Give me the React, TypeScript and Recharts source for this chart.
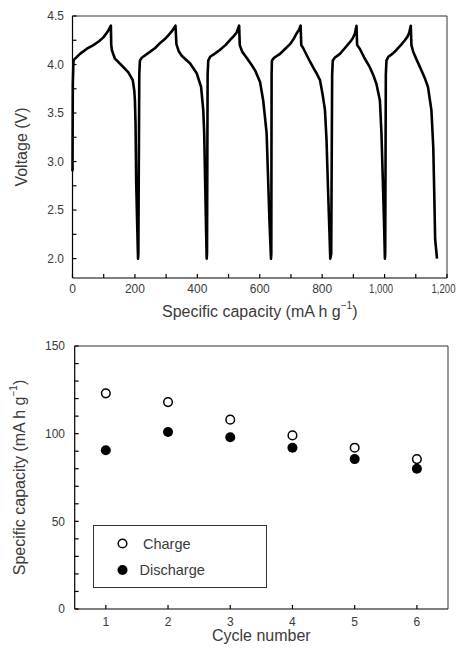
import React from "react";
import {
  LineChart,
  Line,
  XAxis,
  YAxis,
  ReferenceLine,
  Label,
  ScatterChart,
  Scatter,
  Legend,
} from "recharts";

const FONT = "'Liberation Sans', Arial, Helvetica, sans-serif";
const TEXT = "#3a3a3a";

// charge/discharge profiles: [cumulative capacity (mA h g-1), voltage (V)]
const cycle1: [number, number][] = [
  [0, 2.9], [1, 3.8], [3, 4.03], [5, 4.05], [24, 4.11], [45, 4.16], [67, 4.2], [85, 4.24],
  [99, 4.28], [113, 4.34], [123, 4.4], [124, 4.21], [126, 4.15], [136, 4.06], [158, 3.99],
  [179, 3.92], [193, 3.84], [198, 3.73], [200, 3.63], [202, 3.39], [204, 2.8], [208, 2.25], [210, 2.0],
];
const cycle2: [number, number][] = [
  [211, 2.05], [214, 3.9], [216, 4.04], [222, 4.07], [248, 4.13], [265, 4.17], [280, 4.22],
  [295, 4.26], [307, 4.3], [320, 4.35], [330, 4.4], [333, 4.21], [340, 4.14], [350, 4.09],
  [377, 4.01], [398, 3.91], [412, 3.77], [419, 3.53], [422, 3.29], [425, 2.8], [428, 2.3], [430, 2.0],
];
const cycle3: [number, number][] = [
  [431, 2.05], [433, 3.9], [435, 4.04], [441, 4.08], [455, 4.11], [472, 4.15], [490, 4.2],
  [504, 4.25], [516, 4.29], [526, 4.33], [534, 4.4], [536, 4.2], [544, 4.13], [558, 4.07],
  [573, 4.0], [585, 3.94], [601, 3.82], [611, 3.63], [617, 3.45], [622, 3.29], [626, 2.9],
  [631, 2.4], [636, 2.0],
];
const cycle4: [number, number][] = [
  [637, 2.05], [638, 3.9], [639, 4.04], [646, 4.07], [665, 4.11], [681, 4.16], [697, 4.21],
  [708, 4.26], [718, 4.32], [726, 4.36], [731, 4.4], [733, 4.2], [739, 4.17], [753, 4.08],
  [771, 3.97], [782, 3.91], [793, 3.84], [802, 3.68], [809, 3.53], [814, 3.22], [818, 2.8],
  [822, 2.4], [826, 2.0],
];
const cycle5: [number, number][] = [
  [829, 2.05], [832, 3.9], [834, 4.04], [840, 4.07], [857, 4.11], [873, 4.17], [889, 4.23],
  [898, 4.27], [905, 4.32], [910, 4.4], [912, 4.2], [921, 4.16], [935, 4.07], [953, 3.97],
  [964, 3.89], [974, 3.8], [985, 3.63], [990, 3.29], [994, 2.85], [998, 2.4], [1001, 2.0],
];
const cycle6: [number, number][] = [
  [1002, 2.05], [1004, 3.9], [1006, 4.04], [1012, 4.08], [1025, 4.11], [1038, 4.15],
  [1052, 4.2], [1065, 4.25], [1074, 4.29], [1079, 4.33], [1084, 4.4], [1086, 4.2], [1092, 4.13],
  [1104, 4.04], [1118, 3.94], [1130, 3.85], [1139, 3.77], [1150, 3.53], [1156, 3.15],
  [1159, 2.7], [1162, 2.2], [1168, 2.0],
];

const CAPACITY_TICKS = [0, 100, 200, 300, 400, 500, 600, 700, 800, 900, 1000, 1100, 1200];
const VOLTAGE_TICKS = [2.0, 2.25, 2.5, 2.75, 3.0, 3.25, 3.5, 3.75, 4.0, 4.25, 4.5];

const CYCLES = [1, 2, 3, 4, 5, 6];
const CHARGE_CAPACITY = [123, 118, 108, 99, 92, 85.5];
const DISCHARGE_CAPACITY = [90.5, 101, 98, 92, 85.5, 80];
const CAP_TICKS = [0, 10, 20, 30, 40, 50, 60, 70, 80, 90, 100, 110, 120, 130, 140, 150];

const profile = [cycle1, cycle2, cycle3, cycle4, cycle5, cycle6]
  .flat()
  .map(([cap, v]) => ({ cap, v }));

const chargeData = CYCLES.map((c, i) => ({ cycle: c, capacity: CHARGE_CAPACITY[i] }));
const dischargeData = CYCLES.map((c, i) => ({ cycle: c, capacity: DISCHARGE_CAPACITY[i] }));

// ticks point into the plot; labels drawn by hand
const TICK_LEN = 4;
const tickLineStyle = { stroke: "#000", strokeWidth: 1.2 };
const axisLineStyle = { stroke: "#000", strokeWidth: 1.2 };

function makeYTick(isMajor: (v: number) => boolean, fmt: (v: number) => string, gap: number) {
  return (props: any) => {
    const x = Number(props.x);
    const y = Number(props.y);
    const v = props.payload.value;
    if (!isMajor(v)) return <g />;
    return (
      <text x={x - gap} y={y} dy="0.35em" textAnchor="end" fontSize={12} fill={TEXT} fontFamily={FONT}>
        {fmt(v)}
      </text>
    );
  };
}

function makeXTick(isMajor: (v: number) => boolean, fmt: (v: number) => string, gap: number) {
  return (props: any) => {
    const x = Number(props.x);
    const y = Number(props.y);
    const v = props.payload.value;
    if (!isMajor(v)) return <g />;
    const label = fmt(v);
    // the thousands labels are set tighter in the original
    const wide = label.length > 3;
    const squeeze = wide ? { textLength: 24, lengthAdjust: "spacingAndGlyphs" as const } : {};
    return (
      <text
        x={wide ? x - 3.5 : x}
        y={y + gap}
        dy="0.35em"
        textAnchor="middle"
        fontSize={12}
        fill={TEXT}
        fontFamily={FONT}
        {...squeeze}
      >
        {label}
      </text>
    );
  };
}

const unitTitle = (x: number, y: number, rotate: boolean) => (
  <text
    x={x}
    y={y}
    textAnchor="middle"
    dominantBaseline="central"
    fontSize={16}
    fill={TEXT}
    fontFamily={FONT}
    transform={rotate ? `rotate(-90 ${x} ${y})` : undefined}
  >
    Specific capacity (mA h g
    <tspan dy={-6} fontSize={10}>−1</tspan>
    <tspan dy={6}>)</tspan>
  </text>
);

function VoltageProfile() {
  return (
    <LineChart width={457} height={330} data={profile} margin={{ top: 16, right: 10, bottom: 12, left: 0 }}>
      <XAxis
        dataKey="cap"
        type="number"
        domain={[0, 1200]}
        ticks={CAPACITY_TICKS}
        interval={0}
        tickSize={-TICK_LEN}
        tickMargin={TICK_LEN}
        height={40}
        axisLine={axisLineStyle}
        tickLine={tickLineStyle}
        tick={makeXTick((v) => v % 200 === 0, (v) => v.toLocaleString("en-US"), 11)}
      >
        <Label content={(p: any) => unitTitle(p.viewBox.x + p.viewBox.width / 2, p.viewBox.y + 33, false)} />
      </XAxis>
      <YAxis
        dataKey="v"
        type="number"
        domain={[1.8, 4.5]}
        ticks={VOLTAGE_TICKS}
        interval={0}
        tickSize={-TICK_LEN}
        tickMargin={TICK_LEN}
        width={72.5}
        axisLine={axisLineStyle}
        tickLine={tickLineStyle}
        tick={makeYTick((v) => Math.abs(v * 2 - Math.round(v * 2)) < 1e-6, (v) => v.toFixed(1), 8.5)}
      >
        <Label
          content={(p: any) => {
            const cx = 21;
            const cy = p.viewBox.y + p.viewBox.height / 2;
            return (
              <text
                x={cx}
                y={cy}
                textAnchor="middle"
                dominantBaseline="central"
                fontSize={16}
                fill={TEXT}
                fontFamily={FONT}
                transform={`rotate(-90 ${cx} ${cy})`}
              >
                Voltage (V)
              </text>
            );
          }}
        />
      </YAxis>
      <ReferenceLine y={4.5} stroke="#333" strokeWidth={1} />
      <ReferenceLine x={1200} stroke="#333" strokeWidth={1} />
      <Line
        dataKey="v"
        type="linear"
        stroke="#000"
        strokeWidth={2.6}
        strokeLinejoin="round"
        dot={false}
        activeDot={false}
        isAnimationActive={false}
      />
    </LineChart>
  );
}

const openDot = (p: any) => <circle cx={p.cx} cy={p.cy} r={4.3} fill="#fff" stroke="#000" strokeWidth={1.5} />;
const filledDot = (p: any) => <circle cx={p.cx} cy={p.cy} r={5} fill="#000" />;

function CapacityLegend() {
  return (
    <div
      style={{
        width: 174,
        height: 63,
        boxSizing: "border-box",
        border: "1.3px solid #333",
        background: "#fff",
      }}
    >
      <svg width={172} height={61} style={{ display: "block" }}>
        <circle cx={28.5} cy={17.5} r={4.3} fill="#fff" stroke="#000" strokeWidth={1.5} />
        <text x={49} y={17.5} dy="0.35em" fontSize={14.5} fill={TEXT} fontFamily={FONT}>
          Charge
        </text>
        <circle cx={28.5} cy={44} r={5} fill="#000" />
        <text x={45.5} y={44} dy="0.35em" fontSize={14.5} fill={TEXT} fontFamily={FONT}>
          Discharge
        </text>
      </svg>
    </div>
  );
}

function CyclingChart() {
  return (
    <ScatterChart width={457} height={318} margin={{ top: 16, right: 9, bottom: 9, left: 0 }}>
      <XAxis
        dataKey="cycle"
        type="number"
        domain={[0.5, 6.5]}
        ticks={CYCLES}
        interval={0}
        tickSize={-TICK_LEN}
        tickMargin={TICK_LEN}
        height={30}
        axisLine={axisLineStyle}
        tickLine={tickLineStyle}
        tick={makeXTick(() => true, (v) => String(v), 12.5)}
      >
        <Label
          content={(p: any) => (
            <text
              x={p.viewBox.x + p.viewBox.width / 2}
              y={p.viewBox.y + 26}
              textAnchor="middle"
              dominantBaseline="central"
              fontSize={16}
              fill={TEXT}
              fontFamily={FONT}
            >
              Cycle number
            </text>
          )}
        />
      </XAxis>
      <YAxis
        dataKey="capacity"
        type="number"
        domain={[0, 150]}
        ticks={CAP_TICKS}
        interval={0}
        tickSize={-TICK_LEN}
        tickMargin={TICK_LEN}
        width={74.7}
        axisLine={axisLineStyle}
        tickLine={tickLineStyle}
        tick={makeYTick((v) => v % 50 === 0, (v) => String(v), 9.7)}
      >
        <Label content={(p: any) => unitTitle(19, p.viewBox.y + p.viewBox.height / 2, true)} />
      </YAxis>
      <ReferenceLine y={150} stroke="#333" strokeWidth={1} />
      <ReferenceLine x={6.5} stroke="#333" strokeWidth={1} />
      <Legend
        verticalAlign="middle"
        layout="horizontal"
        content={() => <CapacityLegend />}
        wrapperStyle={{ position: "absolute", left: 93, top: 195, width: 174, height: 63 }}
      />
      <Scatter name="Charge" data={chargeData} shape={openDot} isAnimationActive={false} />
      <Scatter name="Discharge" data={dischargeData} shape={filledDot} isAnimationActive={false} />
    </ScatterChart>
  );
}

export default function App() {
  return (
    <div style={{ position: "absolute", left: 0, top: 0, width: 457, height: 648, background: "#fff" }}>
      <div style={{ position: "absolute", left: 0, top: 0 }}>
        <VoltageProfile />
      </div>
      <div style={{ position: "absolute", left: 0, top: 330 }}>
        <CyclingChart />
      </div>
    </div>
  );
}
